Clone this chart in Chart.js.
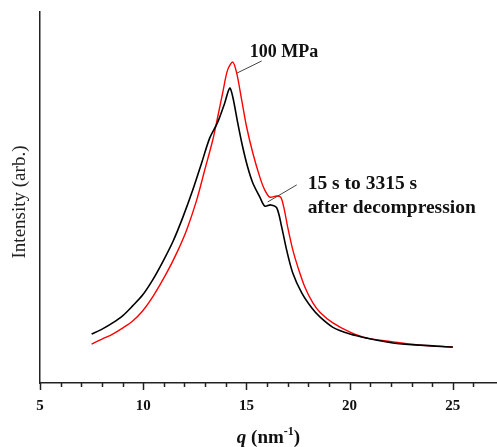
<!DOCTYPE html>
<html>
<head>
<meta charset="utf-8">
<script src="https://cdn.jsdelivr.net/npm/chart.js@4/dist/chart.umd.min.js"></script>
<style>
  body { margin: 0; background: #fff; }
  #wrap { width: 497px; height: 447px; }
</style>
</head>
<body>
<div id="wrap"><canvas id="c" width="497" height="447"></canvas></div>
<script>
// traces (q in nm^-1, intensity in arbitrary units)
const qBlack = [7.50, 8.03, 8.52, 9.00, 9.49, 9.97, 10.46, 10.94, 11.43, 11.91, 12.40, 12.83, 13.22, 13.61, 13.95, 14.19, 14.34, 14.58, 14.82, 15.06, 15.31, 15.65, 15.89, 16.18, 16.47, 16.71, 16.95, 17.25, 17.68, 18.17, 18.56, 19.19, 20.02, 20.84, 22.10, 23.41, 25.00];
const intensityBlack = [13.2, 14.6, 16.2, 18.1, 20.8, 23.7, 27.8, 32.6, 38.0, 44.5, 52.0, 59.3, 66.0, 70.3, 75.5, 79.5, 77.1, 70.1, 63.6, 58.2, 53.9, 50.1, 47.7, 48.0, 47.2, 42.0, 35.8, 29.6, 24.3, 20.2, 17.8, 15.0, 13.2, 12.1, 10.8, 10.2, 9.7];

const qRed = [7.50, 8.03, 8.52, 9.00, 9.49, 9.97, 10.46, 11.13, 11.62, 12.10, 12.59, 12.98, 13.37, 13.61, 13.85, 14.09, 14.34, 14.53, 14.77, 15.01, 15.31, 15.65, 15.89, 16.13, 16.47, 16.66, 16.81, 17.00, 17.25, 17.49, 17.83, 18.22, 18.56, 19.19, 20.02, 20.84, 22.10, 23.41, 25.00];
const intensityRed = [10.5, 11.9, 13.2, 14.8, 16.7, 19.4, 23.2, 29.6, 35.0, 41.2, 49.3, 57.4, 65.5, 71.7, 78.2, 84.4, 86.5, 83.5, 76.3, 69.0, 62.0, 55.5, 52.0, 50.1, 50.4, 50.1, 47.4, 42.0, 35.8, 31.3, 25.9, 21.6, 19.1, 16.2, 13.7, 12.1, 11.1, 10.2, 9.7];

const xTicks = [5, 10, 15, 20, 25];

// annotations: leader line from/to in data units, then text
const notes = [
  { from: [14.53, 83.5], to: [15.74, 86.8], lines: ["100 MPa"], at: [15.16, 87.9], size: 18 },
  { from: [16.03, 48.8], to: [17.44, 53.4], lines: ["15 s to 3315 s", "after decompression"], at: [17.97, 52.3], size: 19.5 }
];

const serif = "'Liberation Serif', 'Times New Roman', serif";

function pts(xs, ys) {
  return xs.map((x, i) => ({ x: x, y: ys[i] }));
}

const extras = {
  id: "extras",
  afterDraw(chart) {
    const ctx = chart.ctx;
    const xs = chart.scales.x;
    const ys = chart.scales.y;
    const area = chart.chartArea;
    ctx.save();

    // tick marks, longer at labelled values
    ctx.strokeStyle = "#222";
    ctx.lineWidth = 1.5;
    xs.ticks.forEach(t => {
      const px = Math.round(xs.getPixelForValue(t.value)) + 0.5;
      const len = xTicks.includes(t.value) ? 7 : 4;
      ctx.beginPath();
      ctx.moveTo(px, area.bottom);
      ctx.lineTo(px, area.bottom + len);
      ctx.stroke();
    });

    // x title: italic q, superscript -1
    const base = 443;
    const parts = [
      { t: "q", f: "italic bold 19px " + serif, dy: 0 },
      { t: " (nm", f: "bold 19px " + serif, dy: 0 },
      { t: "-1", f: "bold 12px " + serif, dy: -8 },
      { t: ")", f: "bold 19px " + serif, dy: 0 }
    ];
    let w = 0;
    parts.forEach(p => { ctx.font = p.f; w += ctx.measureText(p.t).width; });
    let x = (area.left + area.right) / 2 - w / 2;
    ctx.fillStyle = "#111";
    ctx.textBaseline = "alphabetic";
    ctx.textAlign = "left";
    parts.forEach(p => {
      ctx.font = p.f;
      ctx.fillText(p.t, x, base + p.dy);
      x += ctx.measureText(p.t).width;
    });

    // y title
    ctx.save();
    ctx.translate(25, 202);
    ctx.rotate(-Math.PI / 2);
    ctx.textAlign = "center";
    ctx.font = "19px " + serif;
    ctx.fillStyle = "#222";
    ctx.fillText("Intensity (arb.)", 0, 0);
    ctx.restore();

    // annotations
    notes.forEach(n => {
      ctx.strokeStyle = "#444";
      ctx.lineWidth = 1;
      ctx.beginPath();
      ctx.moveTo(xs.getPixelForValue(n.from[0]), ys.getPixelForValue(n.from[1]));
      ctx.lineTo(xs.getPixelForValue(n.to[0]), ys.getPixelForValue(n.to[1]));
      ctx.stroke();
      ctx.font = "bold " + n.size + "px " + serif;
      ctx.fillStyle = "#111";
      const tx = xs.getPixelForValue(n.at[0]);
      const ty = ys.getPixelForValue(n.at[1]);
      n.lines.forEach((s, i) => ctx.fillText(s, tx, ty + i * 24));
    });
    ctx.restore();
  }
};

new Chart(document.getElementById("c"), {
  type: "line",
  data: {
    datasets: [
      {
        data: pts(qBlack, intensityBlack),
        borderColor: "#000",
        borderWidth: 1.6,
        pointRadius: 0,
        tension: 0.3,
        fill: false
      },
      {
        data: pts(qRed, intensityRed),
        borderColor: "#ff0000",
        borderWidth: 1.4,
        pointRadius: 0,
        tension: 0.3,
        fill: false
      }
    ]
  },
  options: {
    responsive: false,
    animation: false,
    layout: { padding: { top: 12, left: 0, right: 0, bottom: 0 } },
    plugins: { legend: { display: false }, tooltip: { enabled: false } },
    scales: {
      x: {
        type: "linear",
        min: 5,
        max: 27.14,
        afterFit(s) { s.height = 64; },
        afterBuildTicks(s) {
          s.ticks = s.ticks.filter(t => Number.isInteger(t.value));
        },
        grid: { display: false, drawTicks: false },
        border: { display: true, color: "#222", width: 1.5 },
        ticks: {
          stepSize: 1,
          autoSkip: false,
          maxRotation: 0,
          padding: 14,
          color: "#111",
          font: { family: serif, size: 15, weight: "bold" },
          callback: v => (xTicks.includes(v) ? String(v) : "")
        }
      },
      y: {
        min: 0,
        max: 100,
        afterFit(s) { s.width = 40; },
        grid: { display: false, drawTicks: false },
        border: { display: true, color: "#222", width: 1.5 },
        ticks: { display: false }
      }
    }
  },
  plugins: [extras]
});
</script>
</body>
</html>
